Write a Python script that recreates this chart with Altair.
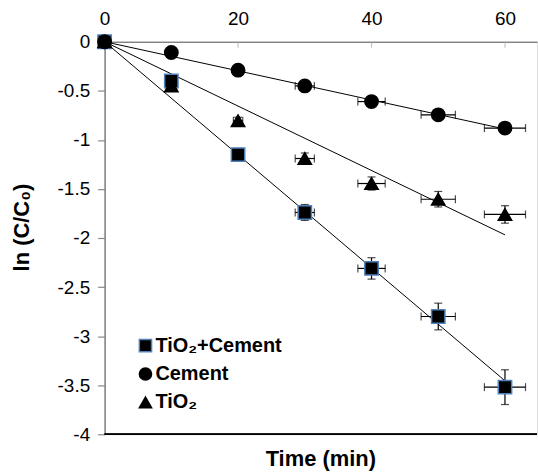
import altair as alt
import pandas as pd

# ---- data ----
time = [0, 10, 20, 30, 40, 50, 60]
series_names = ["TiO₂+Cement", "Cement", "TiO₂"]

tc_vals = [0, -0.40, -1.15, -1.74, -2.31, -2.80, -3.52]
tc_yerr = [0, 0.02, 0.03, 0.081, 0.109, 0.136, 0.177]
tc_xerr = [0, 0.4, 0.7, 1.44, 2.05, 2.57, 3.08]

cem_vals = [0, -0.11, -0.29, -0.45, -0.61, -0.745, -0.88]
cem_yerr = [0, 0.01, 0.015, 0.02, 0.02, 0.02, 0.02]
cem_xerr = [0, 0.4, 0.7, 1.44, 2.05, 2.57, 3.08]

ti_vals = [0, -0.45, -0.805, -1.19, -1.445, -1.605, -1.76]
ti_yerr = [0, 0.02, 0.035, 0.056, 0.067, 0.079, 0.089]
ti_xerr = [0, 0.4, 0.7, 1.44, 2.05, 2.57, 3.08]

trend_time = [0, 60]
tc_trend = [0, -3.455]
cem_trend = [0, -0.89]
ti_trend = [0, -1.968]

x_tick_values = [0, 20, 40, 60]
x_inner_ticks = [20, 40, 60]
y_tick_values = [0, -0.5, -1, -1.5, -2, -2.5, -3, -3.5, -4]

# ---- tables ----
rows = []
for name, vals, ye, xe in [
    (series_names[0], tc_vals, tc_yerr, tc_xerr),
    (series_names[1], cem_vals, cem_yerr, cem_xerr),
    (series_names[2], ti_vals, ti_yerr, ti_xerr),
]:
    for t, v, dy, dx in zip(time, vals, ye, xe):
        rows.append(dict(series=name, t=t, v=v, ylo=v - dy, yhi=v + dy,
                         xlo=t - dx, xhi=t + dx))
df = pd.DataFrame(rows)
df_err = df[df["t"] > 0]

trend_rows = []
for name, tr in zip(series_names, [tc_trend, cem_trend, ti_trend]):
    for t, v in zip(trend_time, tr):
        trend_rows.append(dict(series=name, t=t, v=v))
df_trend = pd.DataFrame(trend_rows)

df_ticks = pd.DataFrame({"t": x_inner_ticks})

FONT = "Liberation Sans"
xscale = alt.Scale(domain=[0, 64.8], nice=False, zero=False)
yscale = alt.Scale(domain=[-4, 0], nice=False, zero=False)

x_axis = alt.Axis(orient="top", values=x_tick_values, title=None, grid=False,
                  ticks=False, tickSize=0, labelPadding=13, labelFontSize=19,
                  labelFont=FONT, labelColor="black", domainColor="#595959",
                  domainWidth=1, labelFlush=False)
y_axis = alt.Axis(orient="left", values=y_tick_values, grid=False,
                  title="ln (C/C₀)", titleFont=FONT, titleFontSize=22,
                  titleFontWeight="bold", titleColor="black", titlePadding=24,
                  titleY=186,
                  tickSize=7, tickColor="#888888", tickWidth=1.2,
                  domainColor="#888888", domainWidth=1.6,
                  labelFontSize=19, labelFont=FONT, labelColor="black",
                  labelPadding=8, labelExpr="'' + datum.value", labelFlush=False)

trend = alt.Chart(df_trend).mark_line(color="black", strokeWidth=1).encode(
    x=alt.X("t:Q", scale=xscale, axis=x_axis),
    y=alt.Y("v:Q", scale=yscale, axis=y_axis),
    detail="series:N",
)

bottom_line = alt.Chart(df_ticks).mark_rule(color="black", strokeWidth=1.3).encode(
    y=alt.datum(-4),
)

inner_ticks = alt.Chart(df_ticks).mark_tick(
    orient="vertical", size=6, thickness=1.2, color="#aaaaaa", yOffset=3
).encode(x=alt.X("t:Q"), y=alt.datum(0))

h_err = alt.Chart(df_err).mark_rule(color="black", strokeWidth=1.2).encode(
    x="xlo:Q", x2="xhi:Q", y="v:Q")
v_err = alt.Chart(df_err).mark_rule(color="black", strokeWidth=1.2).encode(
    x="t:Q", y="ylo:Q", y2="yhi:Q")
h_caps_l = alt.Chart(df_err).mark_tick(orient="vertical", size=8, thickness=1.2,
                                       color="black").encode(x="xlo:Q", y="v:Q")
h_caps_r = alt.Chart(df_err).mark_tick(orient="vertical", size=8, thickness=1.2,
                                       color="black").encode(x="xhi:Q", y="v:Q")
v_caps_lo = alt.Chart(df_err).mark_tick(orient="horizontal", size=8, thickness=1.2,
                                        color="black").encode(x="t:Q", y="ylo:Q")
v_caps_hi = alt.Chart(df_err).mark_tick(orient="horizontal", size=8, thickness=1.2,
                                        color="black").encode(x="t:Q", y="yhi:Q")

legend = alt.Legend(title=None, orient="none", legendX=31, legendY=295,
                    labelFont=FONT, labelFontSize=20, labelFontWeight="bold",
                    labelColor="black", symbolSize=150, symbolStrokeWidth=1.5,
                    rowPadding=8.5, labelOffset=0, padding=0)

points = alt.Chart(df).mark_point(filled=True, size=180, opacity=1,
                                  strokeWidth=1.5).encode(
    x="t:Q",
    y="v:Q",
    shape=alt.Shape("series:N", scale=alt.Scale(
        domain=series_names, range=["square", "circle", "triangle-up"]),
        legend=legend),
    fill=alt.Fill("series:N", scale=alt.Scale(
        domain=series_names, range=["black", "black", "black"]), legend=legend),
    stroke=alt.Stroke("series:N", scale=alt.Scale(
        domain=series_names, range=["#4F81BD", "black", "black"]), legend=legend),
)

chart = alt.layer(
    trend, bottom_line, inner_ticks, h_err, v_err,
    h_caps_l, h_caps_r, v_caps_lo, v_caps_hi, points
).properties(
    width=434, height=394,
    padding={"left": 10, "top": 9, "right": 0, "bottom": 0},
    title=alt.TitleParams("Time (min)", orient="bottom", anchor="middle",
                          frame="group", fontSize=22, fontWeight="bold",
                          font=FONT, color="black", offset=5),
).configure_view(stroke=None).configure(background="white")

chart.save("out.html", embed_options={"renderer": "svg", "actions": False})
